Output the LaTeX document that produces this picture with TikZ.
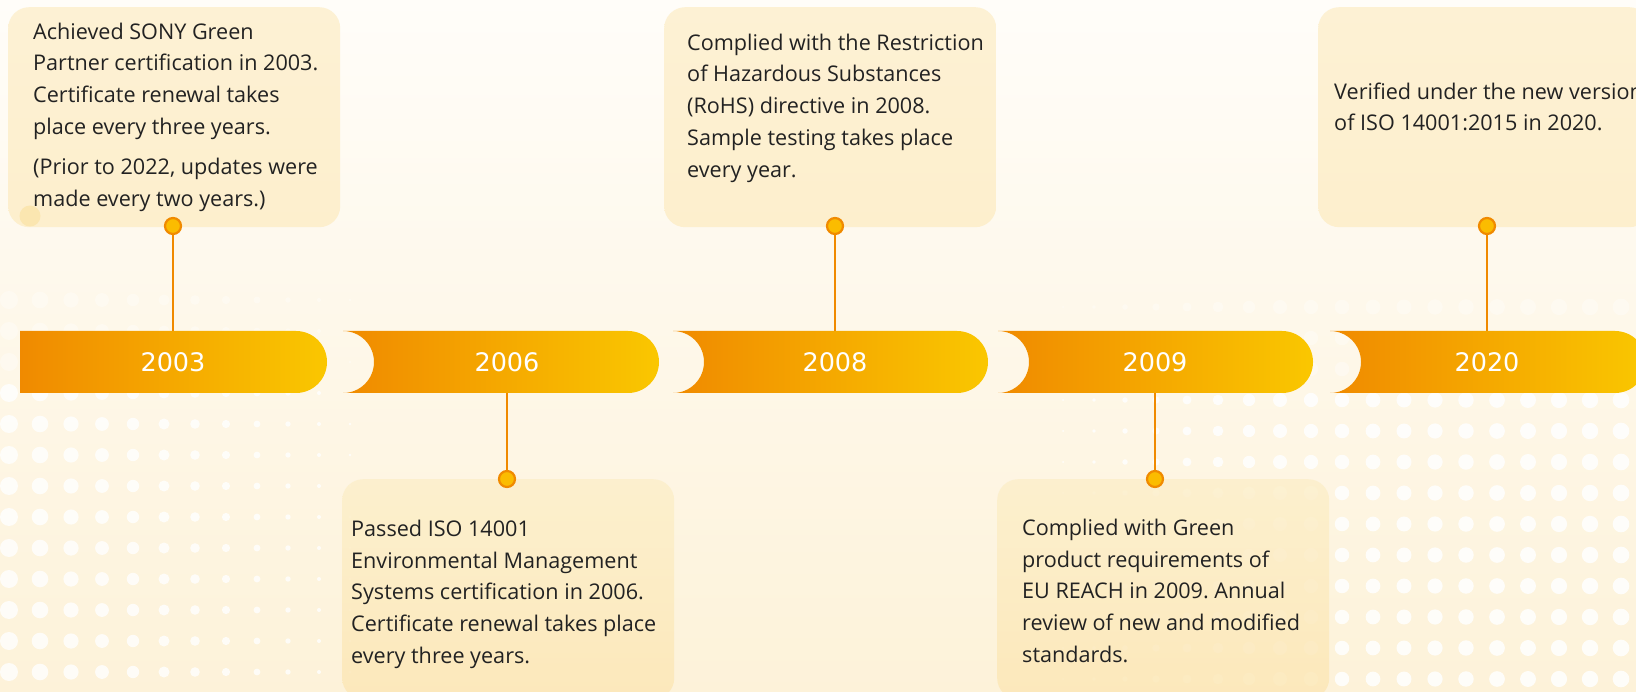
\documentclass[tikz,border=0pt]{standalone}
\usepackage{fontspec}
\setmainfont{Open Sans}
\newfontfamily\yearfont{DejaVu Sans}
\frenchspacing
\definecolor{bgtop}{HTML}{FFFDF9}
\definecolor{bgbot}{HTML}{FDF2D9}
\definecolor{boxtopA}{HTML}{FDF1D4}
\definecolor{boxbotA}{HTML}{FDEFCD}
\definecolor{boxtopB}{HTML}{FCEFCB}
\definecolor{boxbotB}{HTML}{FCE7B6}
\definecolor{txtcol}{HTML}{222222}
\definecolor{barL}{HTML}{F08A00}
\definecolor{barR}{HTML}{FAC700}
\definecolor{pinfill}{HTML}{FBBC00}
\definecolor{pinline}{HTML}{F08A00}
\definecolor{decodot}{HTML}{FBE6B0}
\newcommand\mystrut{\rule{0pt}{20pt}}
\tikzset{
  panel/.style={rounded corners=21pt, inner sep=0pt, minimum width=332pt, minimum height=220pt, anchor=north west},
  toppanel/.style={panel, top color=boxtopA, bottom color=boxbotA},
  botpanel/.style={panel, top color=boxtopB, bottom color=boxbotB, fill opacity=0.85},
  body/.style={anchor=north west, inner sep=0pt, align=left, text=txtcol, font=\fontsize{21.6pt}{31.8pt}\selectfont},
  year/.style={text=white, font=\yearfont\fontsize{25.5pt}{30pt}\selectfont, inner sep=0pt},
  pin/.style={circle, fill=pinfill, draw=pinline, line width=2.2pt, minimum size=16pt, inner sep=0pt},
  stem/.style={draw=pinline, line width=2pt},
  barfill/.style={left color=barL, right color=barR},
  bgdot/.style={fill=white},
}
\begin{document}
\begin{tikzpicture}[x=1pt,y=-1pt]
\useasboundingbox (0,0) rectangle (1636,692);
\shade[top color=bgtop, bottom color=bgbot] (0,0) rectangle (1636,692);
% dot fields
\foreach \k in {0,...,11}{
  \foreach \j in {0,...,12}{
    \pgfmathsetmacro\rr{9-0.7*\k}
    \pgfmathsetmacro\op{\j<3 ? 0.35 : 0.8}
    \fill[bgdot, opacity=\op] (9+31*\k, 300+31*\j) circle[radius=\rr pt];
  }
}
\foreach \k in {0,...,18}{
  \foreach \j in {0,...,12}{
    \pgfmathsetmacro\rr{\k<7 ? 1+0.86*\k : 7+0.12*(\k-7)}
    \pgfmathsetmacro\op{\j<3 ? 0.35 : 0.85}
    \fill[bgdot, opacity=\op] (1063+31*\k, 307+31*\j) circle[radius=\rr pt];
  }
}
% bars
\shade[barfill] (20,331) -- (296,331) arc[start angle=90, end angle=-90, radius=31pt] -- (20,393) -- cycle;
\shade[barfill] (343,331) -- (628,331) arc[start angle=90, end angle=-90, radius=31pt] -- (343,393) arc[start angle=-90, end angle=90, radius=31pt] -- cycle;
\shade[barfill] (673,331) -- (957,331) arc[start angle=90, end angle=-90, radius=31pt] -- (673,393) arc[start angle=-90, end angle=90, radius=31pt] -- cycle;
\shade[barfill] (998,331) -- (1282,331) arc[start angle=90, end angle=-90, radius=31pt] -- (998,393) arc[start angle=-90, end angle=90, radius=31pt] -- cycle;
\shade[barfill] (1330,331) -- (1615,331) arc[start angle=90, end angle=-90, radius=31pt] -- (1330,393) arc[start angle=-90, end angle=90, radius=31pt] -- cycle;
\node[year] (y1) at (173,362) {2003};
\node[year] (y2) at (507,362) {2006};
\node[year] (y3) at (835,362) {2008};
\node[year] (y4) at (1155,362) {2009};
\node[year] (y5) at (1487,362) {2020};
% panels
\node[toppanel] (c1) at (8,7) {};
\node[toppanel] (c3) at (664,7) {};
\node[toppanel] (c5) at (1318,7) {};
\node[botpanel] (c2) at (342,479) {};
\node[botpanel] (c4) at (997,479) {};
\fill[decodot] (30,216) circle[radius=10.5pt];
% texts
\node[body] (t1) at (33,19) {\mystrut Achieved SONY Green\\Partner certification in 2003.\\Certificate renewal takes\\place every three years.\\[8pt](Prior to 2022, updates were\\made every two years.)};
\node[body] (t3) at (687,30) {\mystrut Complied with the Restriction\\of Hazardous Substances\\(RoHS) directive in 2008.\\Sample testing takes place\\every year.};
\node[body] (t5) at (1334,79) {\mystrut Verified under the new version\\of ISO 14001:2015 in 2020.};
\node[body] (t2) at (351,516) {\mystrut Passed ISO 14001\\Environmental Management\\Systems certification in 2006.\\Certificate renewal takes place\\every three years.};
\node[body] (t4) at (1022,515) {\mystrut Complied with Green\\product requirements of\\EU REACH in 2009. Annual\\review of new and modified\\standards.};
% pins and stems
\node[pin] (p1) at (173,226) {};
\node[pin] (p2) at (507,479) {};
\node[pin] (p3) at (835,226) {};
\node[pin] (p4) at (1155,479) {};
\node[pin] (p5) at (1487,226) {};
\coordinate (q1) at (173,331);
\coordinate (q2) at (507,393);
\coordinate (q3) at (835,331);
\coordinate (q4) at (1155,393);
\coordinate (q5) at (1487,331);
\draw[stem] (p1) -- (q1);
\draw[stem] (p2) -- (q2);
\draw[stem] (p3) -- (q3);
\draw[stem] (p4) -- (q4);
\draw[stem] (p5) -- (q5);
\end{tikzpicture}
\end{document}
